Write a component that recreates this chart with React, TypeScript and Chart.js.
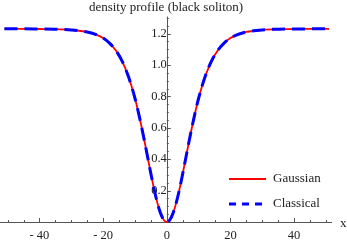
import React, { useEffect, useRef } from 'react';
import { Chart, registerables } from 'chart.js';

Chart.register(...registerables);

const xValues = [
  -51, -45, -40, -35, -30, -25, -22, -20, -18, -16, -14, -12, -10, -9, -8, -7, -6, -5, -4, -3, -2, -1,
  0, 1, 2, 3, 4, 5, 6, 7, 8, 9, 10, 12, 14, 16, 18, 20, 22, 25, 30, 35, 40, 45, 51,
];
const gaussianDensity = [
  1.23, 1.23, 1.229, 1.228, 1.223, 1.21, 1.192, 1.171, 1.139, 1.092, 1.023, 0.923, 0.788, 0.705, 0.613, 0.514, 0.411, 0.308, 0.21, 0.125, 0.058, 0.015,
  0, 0.015, 0.058, 0.125, 0.21, 0.308, 0.411, 0.514, 0.613, 0.705, 0.788, 0.923, 1.023, 1.092, 1.139, 1.171, 1.192, 1.21, 1.223, 1.228, 1.229, 1.23, 1.23,
];
const classicalDensity = [
  1.23, 1.23, 1.229, 1.228, 1.223, 1.21, 1.192, 1.171, 1.139, 1.092, 1.023, 0.923, 0.788, 0.705, 0.613, 0.514, 0.411, 0.308, 0.21, 0.125, 0.058, 0.015,
  0, 0.015, 0.058, 0.125, 0.21, 0.308, 0.411, 0.514, 0.613, 0.705, 0.788, 0.923, 1.023, 1.092, 1.139, 1.171, 1.192, 1.21, 1.223, 1.228, 1.229, 1.23, 1.23,
];
const seriesNames = ['Gaussian', 'Classical'];
const xMajorTicks = [-40, -20, 0, 20, 40];
const xTickLabels = ['- 40', '- 20', '0', '20', '40'];
const yMajorTicks = [0.2, 0.4, 0.6, 0.8, 1.0, 1.2];
const yTickLabels = ['0.2', '0.4', '0.6', '0.8', '1.0', '1.2'];
const titleText = 'density profile (black soliton)';
const xAxisName = 'x';

const FONT = "'Liberation Serif', 'DejaVu Serif', serif";
const AXIS_COLOR = '#555555';
const TEXT_COLOR = '#222222';
const RED = '#ff0000';
const BLUE = '#0000ff';

const axesPlugin = {
  id: 'mathAxes',
  beforeDatasetsDraw(chart: any) {
    const { ctx, chartArea } = chart;
    const xs = chart.scales.x;
    const ys = chart.scales.y;
    const y0 = ys.getPixelForValue(0);
    const x0 = xs.getPixelForValue(0);
    ctx.save();
    ctx.strokeStyle = AXIS_COLOR;
    ctx.lineWidth = 1;
    ctx.beginPath();
    ctx.moveTo(chartArea.left, y0 + 0.5);
    ctx.lineTo(chartArea.right, y0 + 0.5);
    ctx.moveTo(Math.round(x0) + 0.5, y0);
    ctx.lineTo(Math.round(x0) + 0.5, chartArea.top);
    for (let v = -50; v <= 50; v += 5) {
      if (v === 0) continue;
      const px = Math.round(xs.getPixelForValue(v)) + 0.5;
      const len = v % 20 === 0 ? 4 : 2;
      ctx.moveTo(px, y0);
      ctx.lineTo(px, y0 - len);
    }
    for (let i = 1; i <= 26; i++) {
      const v = i * 0.05;
      const py = Math.round(ys.getPixelForValue(v)) + 0.5;
      const len = i % 4 === 0 ? 4 : 2;
      ctx.moveTo(x0, py);
      ctx.lineTo(x0 + len, py);
    }
    ctx.stroke();
    ctx.fillStyle = TEXT_COLOR;
    ctx.font = `13px ${FONT}`;
    ctx.textAlign = 'left';
    ctx.textBaseline = 'middle';
    ctx.fillText(xAxisName, chartArea.right + 8, y0 + 1.5);
    ctx.restore();
  },
  afterDraw(chart: any) {
    const { ctx } = chart;
    ctx.save();
    const items = [
      { name: seriesNames[0], color: RED, width: 1.8, dash: [] as number[], y: 179 },
      { name: seriesNames[1], color: BLUE, width: 3, dash: [7, 6], y: 204 },
    ];
    for (const it of items) {
      ctx.beginPath();
      ctx.strokeStyle = it.color;
      ctx.lineWidth = it.width;
      ctx.setLineDash(it.dash);
      ctx.lineDashOffset = 0;
      ctx.moveTo(229, it.y);
      ctx.lineTo(266, it.y);
      ctx.stroke();
      ctx.setLineDash([]);
      ctx.fillStyle = TEXT_COLOR;
      ctx.font = `13px ${FONT}`;
      ctx.textAlign = 'left';
      ctx.textBaseline = 'middle';
      ctx.fillText(it.name, 273, it.y);
    }
    ctx.restore();
  },
};

export default function App() {
  const ref = useRef<HTMLCanvasElement | null>(null);
  useEffect(() => {
    document.body.style.margin = '0';
    if (!ref.current) return;
    const chart = new Chart(ref.current, {
      type: 'line',
      data: {
        datasets: [
          {
            label: seriesNames[0],
            data: xValues.map((x, i) => ({ x, y: gaussianDensity[i] })),
            borderColor: RED,
            borderWidth: 1.8,
            pointRadius: 0,
            cubicInterpolationMode: 'monotone',
            fill: false,
            order: 2,
            clip: false,
          } as any,
          {
            label: seriesNames[1],
            data: xValues.map((x, i) => ({ x, y: classicalDensity[i] })),
            borderColor: BLUE,
            borderWidth: 3,
            borderDash: [13, 7],
            pointRadius: 0,
            cubicInterpolationMode: 'monotone',
            fill: false,
            order: 1,
            clip: false,
          } as any,
        ],
      },
      options: {
        animation: false,
        responsive: false,
        events: [],
        layout: { padding: { left: 0, right: 15, top: 0, bottom: 0 } },
        plugins: {
          legend: { display: false },
          tooltip: { enabled: false },
          title: {
            display: true,
            text: titleText,
            fullSize: false,
            color: TEXT_COLOR,
            font: { family: FONT, size: 13, weight: 'normal', lineHeight: 1.2 },
            padding: { top: 0, bottom: 1 },
          },
        },
        scales: {
          x: {
            type: 'linear',
            min: -52.4,
            max: 51.9,
            position: 'bottom',
            grid: { display: false, drawTicks: false },
            border: { display: false },
            afterBuildTicks: (s: any) => {
              s.ticks = xMajorTicks.map((v) => ({ value: v }));
            },
            afterFit: (s: any) => {
              s.height = 18;
            },
            ticks: {
              autoSkip: false,
              maxRotation: 0,
              padding: 6,
              color: TEXT_COLOR,
              font: { family: FONT, size: 12.5 },
              callback: (v: any) => {
                const i = xMajorTicks.indexOf(Number(v));
                return i >= 0 ? xTickLabels[i] : '';
              },
            },
          },
          y: {
            type: 'linear',
            min: 0,
            max: 1.308,
            position: { x: 0 } as any,
            grid: { display: false, drawTicks: false },
            border: { display: false },
            afterBuildTicks: (s: any) => {
              s.ticks = yMajorTicks.map((v) => ({ value: v }));
            },
            afterFit: (s: any) => {
              s.width = 0;
            },
            ticks: {
              autoSkip: false,
              padding: 5,
              color: TEXT_COLOR,
              font: { family: FONT, size: 12.5 },
              callback: (v: any) => {
                const i = yMajorTicks.findIndex((t) => Math.abs(t - Number(v)) < 1e-9);
                return i >= 0 ? yTickLabels[i] : '';
              },
            },
          },
        },
      },
      plugins: [axesPlugin],
    } as any);
    return () => chart.destroy();
  }, []);
  return (
    <div style={{ width: 347, height: 240 }}>
      <canvas ref={ref} width={347} height={240} style={{ display: 'block' }} />
    </div>
  );
}
